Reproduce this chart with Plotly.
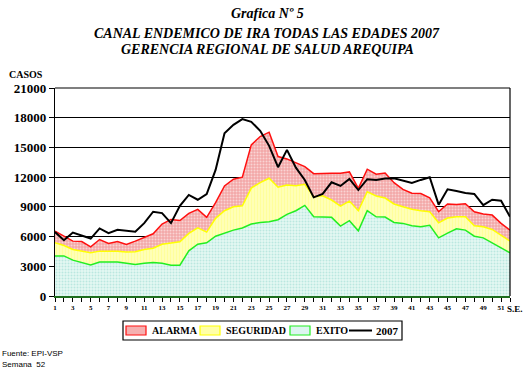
import plotly.graph_objects as go

# Epidemiological weeks
semanas = list(range(1, 53))

# Upper limit of the success zone (EXITO)
exito = [4050, 4050, 3620, 3380, 3140, 3440, 3440, 3440, 3310, 3170,
         3310, 3380, 3310, 3110, 3110, 4560, 5230, 5370, 6040, 6380,
         6650, 6860, 7260, 7430, 7500, 7700, 8240, 8610, 9150, 8000,
         7970, 7940, 7060, 7600, 6580, 8610, 8000, 7970, 7430, 7330,
         7090, 6990, 7130, 5870, 6350, 6790, 6650, 6040, 5870, 5370,
         4900, 4360]

# Upper limit of the safety zone (SEGURIDAD)
seguridad = [5370, 5100, 4700, 4530, 4360, 4530, 4530, 4530, 4430, 4460,
             4700, 4830, 5230, 5370, 5470, 6320, 6890, 6450, 7840, 8610,
             9010, 9110, 10900, 11440, 11890, 10980, 11210, 11140, 11280, 10020,
             10120, 9690, 9080, 9580, 8610, 10530, 10100, 9890, 9290, 9010,
             8750, 8610, 8510, 7390, 7870, 8000, 8000, 7090, 6990, 6720,
             6150, 5540]

# Upper limit of the alarm zone (ALARMA)
alarma = [6550, 6080, 5540, 5500, 4960, 5700, 5300, 5500, 5200, 5540,
          5870, 6280, 7260, 7730, 7620, 8340, 8750, 7940, 9420, 11110,
          11790, 11990, 15260, 16100, 16540, 14080, 13840, 13470, 13060, 12350,
          12390, 12390, 12390, 12530, 10870, 12800, 12290, 12420, 11440, 10770,
          10370, 10340, 9920, 8510, 9290, 9250, 9320, 8510, 8270, 8170,
          7330, 6650]

# Reported cases in 2007
casos_2007 = [6450, 5640, 6410, 6080, 5800, 6820, 6350, 6680, 6550, 6480,
              7360, 8510, 8370, 7360, 9110, 10200, 9720, 10300, 12730, 16440,
              17280, 17860, 17590, 16680, 15160, 13000, 14750, 12960, 11720, 9960,
              10300, 11480, 11110, 11820, 10700, 11790, 11720, 11860, 11890, 11620,
              11410, 11720, 11990, 9220, 10770, 10600, 10400, 10300, 9180, 9720,
              9620, 8000]

y_ticks = list(range(0, 21001, 3000))
x_labels = list(range(1, 52, 2))

titulo = ["Grafica Nº 5",
          "CANAL ENDEMICO DE IRA TODAS LAS EDADES 2007",
          "GERENCIA REGIONAL DE SALUD AREQUIPA"]

SERIF = "Liberation Serif, Times New Roman, serif"
SANS = "Liberation Sans, Arial, sans-serif"

fig = go.Figure()

fig.add_trace(go.Scatter(
    x=semanas, y=exito, mode="lines", name="EXITO",
    line=dict(color="#22EE22", width=1.5),
    fill="tozeroy", fillcolor="#DDF5F0",
    fillpattern=dict(shape=".", bgcolor="#E4F8F3", fgcolor="#8FD8CC",
                     size=3, solidity=0.35),
    showlegend=False, hoverinfo="skip"))

fig.add_trace(go.Scatter(
    x=semanas, y=seguridad, mode="lines", name="SEGURIDAD",
    line=dict(color="#FFFF00", width=1.5),
    fill="tonexty", fillcolor="#FFFFA8",
    fillpattern=dict(shape="|", bgcolor="#FFFFB8", fgcolor="#FFFF80",
                     size=3, solidity=0.4),
    showlegend=False, hoverinfo="skip"))

fig.add_trace(go.Scatter(
    x=semanas, y=alarma, mode="lines", name="ALARMA",
    line=dict(color="#FF1010", width=1.5),
    fill="tonexty", fillcolor="#F5B5B5",
    fillpattern=dict(shape=".", bgcolor="#F3A8A8", fgcolor="#FFFFFF",
                     size=3, solidity=0.35),
    showlegend=False, hoverinfo="skip"))

fig.add_trace(go.Scatter(
    x=semanas, y=casos_2007, mode="lines", name="2007",
    line=dict(color="#000000", width=2),
    showlegend=False))

# Plot frame: top and right borders
fig.add_shape(type="line", xref="paper", yref="paper", x0=0, x1=1, y0=1, y1=1,
              line=dict(color="black", width=1.2))
fig.add_shape(type="line", xref="paper", yref="paper", x0=1, x1=1, y0=0, y1=1,
              line=dict(color="black", width=1.2))

# Pixel helpers for placing text and legend around the plot area
PL, PW, PT, PH = 55, 455, 88, 208


def px_x(p):
    return (p - PL) / PW


def px_y(p):
    return 1 - (p - PT) / PH


# Title lines
for txt, ty in zip(titulo, [14, 33, 49]):
    fig.add_annotation(x=px_x(267), y=px_y(ty), xref="paper", yref="paper",
                       text=f"<b><i>{txt}</i></b>", showarrow=False,
                       xanchor="center", yanchor="middle",
                       font=dict(family=SERIF, size=14, color="black"))

# Legend drawn as a framed box below the axis
fig.add_shape(type="rect", xref="paper", yref="paper",
              x0=px_x(123), x1=px_x(402), y0=px_y(321), y1=px_y(340),
              line=dict(color="black", width=1.2), fillcolor="white")

legend_items = [
    ("ALARMA", 126, 150, "#F5B0B0", "#FF1010"),
    ("SEGURIDAD", 200, 224, "#FFFFA8", "#FFFF00"),
    ("EXITO", 290, 314, "#DDF5F0", "#22EE22"),
]
for label, sx, tx, fc, lc in legend_items:
    fig.add_shape(type="rect", xref="paper", yref="paper",
                  x0=px_x(sx), x1=px_x(sx + 20), y0=px_y(326), y1=px_y(335),
                  line=dict(color=lc, width=1.2), fillcolor=fc)
    fig.add_annotation(x=px_x(tx), y=px_y(330.5), xref="paper", yref="paper",
                       text=f"<b>{label}</b>", showarrow=False,
                       xanchor="left", yanchor="middle",
                       font=dict(family=SERIF, size=10, color="black"))

fig.add_shape(type="line", xref="paper", yref="paper",
              x0=px_x(349), x1=px_x(372), y0=px_y(330.5), y1=px_y(330.5),
              line=dict(color="black", width=2))
fig.add_annotation(x=px_x(374), y=px_y(330.5), xref="paper", yref="paper",
                   text="<b>2007</b>", showarrow=False,
                   xanchor="left", yanchor="middle",
                   font=dict(family=SERIF, size=11, color="black"))

# Axis captions
fig.add_annotation(x=px_x(7), y=px_y(74), xref="paper", yref="paper",
                   text="<b>CASOS</b>", showarrow=False,
                   xanchor="left", yanchor="middle",
                   font=dict(family=SERIF, size=10, color="black"))
fig.add_annotation(x=px_x(525), y=px_y(309), xref="paper", yref="paper",
                   text="<b>S.E.</b>", showarrow=False,
                   xanchor="right", yanchor="middle",
                   font=dict(family=SERIF, size=9, color="black"))

# Source notes
fig.add_annotation(x=px_x(0), y=px_y(353), xref="paper", yref="paper",
                   text="Fuente: EPI-VSP", showarrow=False,
                   xanchor="left", yanchor="middle",
                   font=dict(family=SANS, size=8, color="black"))
fig.add_annotation(x=px_x(0), y=px_y(364), xref="paper", yref="paper",
                   text="Semana  52", showarrow=False,
                   xanchor="left", yanchor="middle",
                   font=dict(family=SANS, size=8, color="black"))

fig.update_layout(
    width=526, height=368,
    margin=dict(l=PL, r=526 - PL - PW, t=PT, b=368 - PT - PH),
    paper_bgcolor="white", plot_bgcolor="white",
    xaxis=dict(
        range=[1, 52], tickmode="array", tickvals=x_labels,
        ticktext=[f"<b>{v}</b>" for v in x_labels],
        showgrid=False, zeroline=False,
        showline=True, linecolor="#1E6E1E", linewidth=2,
        ticks="outside", ticklen=4, tickcolor="black", tickwidth=1,
        minor=dict(dtick=1, tick0=1, ticks="outside", ticklen=4,
                   tickcolor="black", tickwidth=1, showgrid=False),
        tickfont=dict(family=SERIF, size=7, color="black")),
    yaxis=dict(
        range=[0, 21000], tickmode="array", tickvals=y_ticks,
        ticktext=[f"<b>{v}</b>" for v in y_ticks],
        showgrid=True, gridcolor="#000000", gridwidth=1,
        zeroline=False,
        showline=True, linecolor="black", linewidth=1.2,
        ticks="outside", ticklen=5, tickcolor="black",
        tickfont=dict(family=SERIF, size=13, color="black")),
)

fig.write_html("out.html")
